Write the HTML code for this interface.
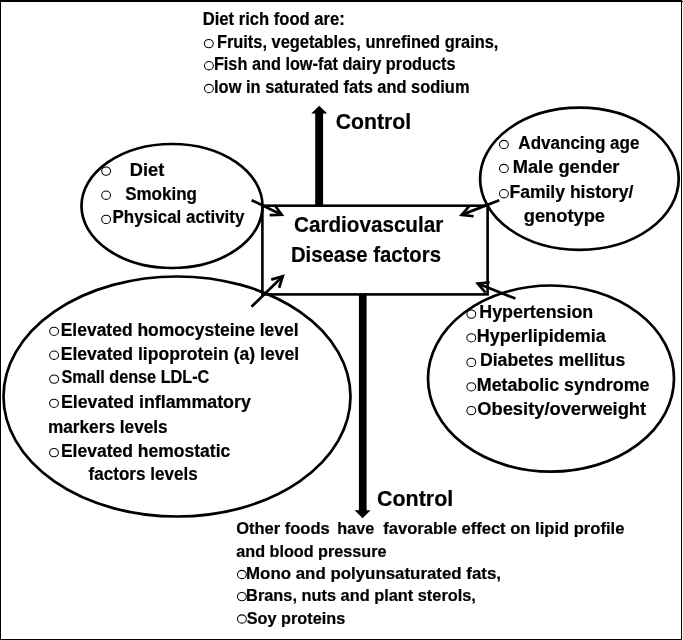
<!DOCTYPE html><html><head><meta charset="utf-8"><style>html,body{margin:0;padding:0;background:#fff;}svg{display:block;filter:grayscale(1);}text{font-family:"Liberation Sans",sans-serif;font-weight:bold;fill:#000;stroke:#000;stroke-width:0.2px;}</style></head><body>
<svg width="683" height="640" viewBox="0 0 683 640">
<rect x="0" y="0" width="683" height="640" fill="#fff"/>
<rect x="0" y="0" width="682" height="2" fill="#000"/>
<rect x="0" y="1" width="683" height="1" fill="#000"/>
<rect x="0" y="0" width="1" height="640" fill="#000"/>
<rect x="681" y="0" width="1" height="640" fill="#000"/>
<rect x="0" y="639" width="682" height="1" fill="#000"/>
<g fill="none" stroke="#000" stroke-width="2.7"><ellipse cx="172" cy="206" rx="90.5" ry="62"/><ellipse cx="177" cy="396.5" rx="173.5" ry="120"/><ellipse cx="579.4" cy="178.75" rx="99.3" ry="71.1"/><ellipse cx="551" cy="378.6" rx="123" ry="93.1"/><rect x="262.4" y="205.7" width="225.2" height="88.7" stroke-width="2.6"/></g>
<g fill="none" stroke="#000" stroke-width="2.7" stroke-linejoin="miter"><line x1="251.6" y1="200.2" x2="281.7" y2="214.73"/><polyline points="269.71,215.2 281.7,214.73 274.61,205.05"/><line x1="499.3" y1="200.2" x2="461.66" y2="214.87"/><polyline points="469.49,205.78 461.66,214.87 473.58,216.27"/><line x1="251.5" y1="306.8" x2="282.77" y2="276.3"/><polyline points="279.12,287.73 282.77,276.3 271.25,279.66"/><line x1="515.4" y1="298.6" x2="477.76" y2="283.54"/><polyline points="489.69,282.25 477.76,283.54 485.5,292.71"/></g>
<polygon fill="#000" points="315.2,206 315.2,113.6 311.25,113.6 319.2,105.75 327.2,113.6 323.1,113.6 323.1,206"/>
<polygon fill="#000" points="358.9,294 358.9,510.3 354.7,510.3 362.6,518.25 370.6,510.3 366.6,510.3 366.6,294"/>
<g fill="none" stroke="#000" stroke-width="1.05"><ellipse cx="208.8" cy="43.6" rx="4.45" ry="4.15"/><ellipse cx="208.9" cy="65.7" rx="4.45" ry="4.15"/><ellipse cx="208.9" cy="88.5" rx="4.45" ry="4.15"/><ellipse cx="106.1" cy="171.1" rx="4.45" ry="4.15"/><ellipse cx="106.1" cy="195.2" rx="4.45" ry="4.15"/><ellipse cx="106.1" cy="219.4" rx="4.45" ry="4.15"/><ellipse cx="503.9" cy="144.5" rx="4.45" ry="4.15"/><ellipse cx="503.9" cy="168.5" rx="4.45" ry="4.15"/><ellipse cx="503.9" cy="193.7" rx="4.45" ry="4.15"/><ellipse cx="54.1" cy="331.3" rx="4.45" ry="4.15"/><ellipse cx="54.1" cy="355.2" rx="4.45" ry="4.15"/><ellipse cx="54.1" cy="379.1" rx="4.45" ry="4.15"/><ellipse cx="54" cy="403.3" rx="4.45" ry="4.15"/><ellipse cx="54" cy="452.6" rx="4.45" ry="4.15"/><ellipse cx="471.3" cy="314.1" rx="4.45" ry="4.15"/><ellipse cx="471.3" cy="337.8" rx="4.45" ry="4.15"/><ellipse cx="471.3" cy="362.4" rx="4.45" ry="4.15"/><ellipse cx="471.3" cy="386.8" rx="4.45" ry="4.15"/><ellipse cx="471.3" cy="410.6" rx="4.45" ry="4.15"/><ellipse cx="241.9" cy="574.5" rx="4.45" ry="4.15"/><ellipse cx="241.9" cy="596.6" rx="4.45" ry="4.15"/><ellipse cx="241.9" cy="619" rx="4.45" ry="4.15"/></g>
<text x="202.78" y="24.8" font-size="17.6" textLength="141.99" lengthAdjust="spacingAndGlyphs" xml:space="preserve">Diet rich food are:</text>
<text x="216.89" y="47.7" font-size="17.6" textLength="281.54" lengthAdjust="spacingAndGlyphs" xml:space="preserve">Fruits, vegetables, unrefined grains,</text>
<text x="213.9" y="69.9" font-size="17.6" textLength="241.65" lengthAdjust="spacingAndGlyphs" xml:space="preserve">Fish and low-fat dairy products</text>
<text x="214.05" y="92.8" font-size="17.6" textLength="255.45" lengthAdjust="spacingAndGlyphs" xml:space="preserve">low in saturated fats and sodium</text>
<text x="335.75" y="129.4" font-size="22" textLength="75.43" lengthAdjust="spacingAndGlyphs" xml:space="preserve">Control</text>
<text x="293.97" y="231.7" font-size="22" textLength="149.3" lengthAdjust="spacingAndGlyphs" xml:space="preserve">Cardiovascular</text>
<text x="290.93" y="261.5" font-size="22" textLength="150" lengthAdjust="spacingAndGlyphs" xml:space="preserve">Disease factors</text>
<text x="129.87" y="175.8" font-size="17.6" textLength="34.39" lengthAdjust="spacingAndGlyphs" xml:space="preserve">Diet</text>
<text x="125.19" y="200.1" font-size="17.6" textLength="71.72" lengthAdjust="spacingAndGlyphs" xml:space="preserve">Smoking</text>
<text x="112.56" y="222.9" font-size="17.6" textLength="131.83" lengthAdjust="spacingAndGlyphs" xml:space="preserve">Physical activity</text>
<text x="518.37" y="148.8" font-size="17.6" textLength="121.09" lengthAdjust="spacingAndGlyphs" xml:space="preserve">Advancing age</text>
<text x="512.66" y="172.9" font-size="17.6" textLength="106.81" lengthAdjust="spacingAndGlyphs" xml:space="preserve">Male gender</text>
<text x="509.42" y="197.6" font-size="17.6" textLength="123.87" lengthAdjust="spacingAndGlyphs" xml:space="preserve">Family history/</text>
<text x="523.77" y="221.7" font-size="17.6" textLength="81.22" lengthAdjust="spacingAndGlyphs" xml:space="preserve">genotype</text>
<text x="60.72" y="335.6" font-size="17.6" textLength="237.9" lengthAdjust="spacingAndGlyphs" xml:space="preserve">Elevated homocysteine level</text>
<text x="60.71" y="359.5" font-size="17.6" textLength="238.41" lengthAdjust="spacingAndGlyphs" xml:space="preserve">Elevated lipoprotein (a) level</text>
<text x="61.41" y="383.4" font-size="17.6" textLength="147.94" lengthAdjust="spacingAndGlyphs" xml:space="preserve">Small dense LDL-C</text>
<text x="60.9" y="407.6" font-size="17.6" textLength="189.9" lengthAdjust="spacingAndGlyphs" xml:space="preserve">Elevated inflammatory</text>
<text x="47.88" y="432.5" font-size="17.6" textLength="119.82" lengthAdjust="spacingAndGlyphs" xml:space="preserve">markers levels</text>
<text x="60.92" y="457.1" font-size="17.6" textLength="169.38" lengthAdjust="spacingAndGlyphs" xml:space="preserve">Elevated hemostatic</text>
<text x="88.6" y="480.1" font-size="17.6" textLength="109.09" lengthAdjust="spacingAndGlyphs" xml:space="preserve">factors levels</text>
<text x="479.3" y="317.5" font-size="17.6" textLength="113.98" lengthAdjust="spacingAndGlyphs" xml:space="preserve">Hypertension</text>
<text x="476.79" y="341.9" font-size="17.6" textLength="129.01" lengthAdjust="spacingAndGlyphs" xml:space="preserve">Hyperlipidemia</text>
<text x="479.91" y="366.3" font-size="17.6" textLength="145.31" lengthAdjust="spacingAndGlyphs" xml:space="preserve">Diabetes mellitus</text>
<text x="476.79" y="390.7" font-size="17.6" textLength="172.72" lengthAdjust="spacingAndGlyphs" xml:space="preserve">Metabolic syndrome</text>
<text x="477.27" y="414.5" font-size="17.6" textLength="168.86" lengthAdjust="spacingAndGlyphs" xml:space="preserve">Obesity/overweight</text>
<text x="377.04" y="505.7" font-size="22" textLength="76.15" lengthAdjust="spacingAndGlyphs" xml:space="preserve">Control</text>
<text x="236.14" y="533.8" font-size="17.0" textLength="93.55" lengthAdjust="spacingAndGlyphs" xml:space="preserve">Other foods</text>
<text x="337.37" y="533.8" font-size="17.0" textLength="36.89" lengthAdjust="spacingAndGlyphs" xml:space="preserve">have</text>
<text x="383.21" y="533.8" font-size="17.0" textLength="241.14" lengthAdjust="spacingAndGlyphs" xml:space="preserve">favorable effect on lipid profile</text>
<text x="236.31" y="556.9" font-size="17.0" textLength="150.15" lengthAdjust="spacingAndGlyphs" xml:space="preserve">and blood pressure</text>
<text x="246.06" y="579.3" font-size="17.0" textLength="254.97" lengthAdjust="spacingAndGlyphs" xml:space="preserve">Mono and polyunsaturated fats,</text>
<text x="246.1" y="601.4" font-size="17.0" textLength="229.83" lengthAdjust="spacingAndGlyphs" xml:space="preserve">Brans, nuts and plant sterols,</text>
<text x="246.71" y="623.7" font-size="17.0" textLength="98.47" lengthAdjust="spacingAndGlyphs" xml:space="preserve">Soy proteins</text>
</svg></body></html>
